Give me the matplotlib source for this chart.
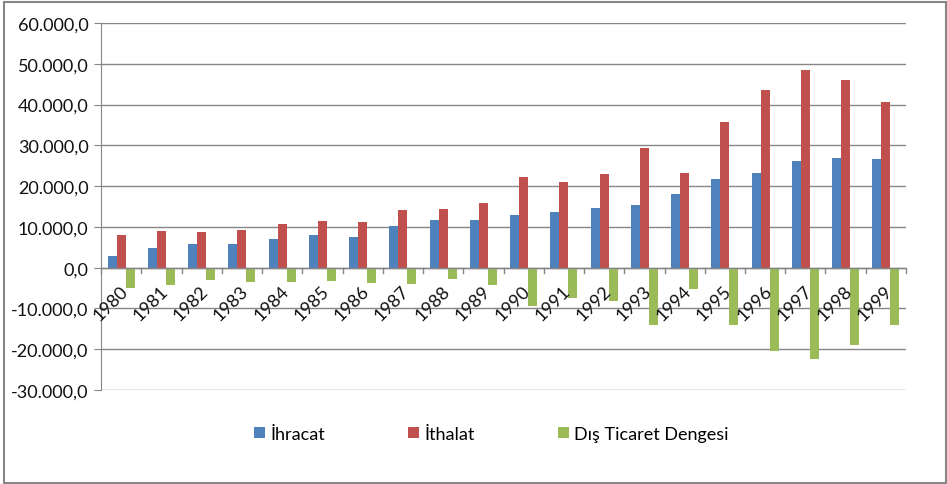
import numpy as np
import matplotlib.pyplot as plt
from matplotlib.patches import Rectangle
from matplotlib.transforms import ScaledTranslation

plt.rcParams['font.family'] = ['Lato', 'DejaVu Sans']

years = [str(y) for y in range(1980, 2000)]
ihracat = [2910, 4703, 5746, 5728, 7134, 7958, 7457, 10190, 11662, 11625,
           12959, 13593, 14715, 15345, 18106, 21637, 23224, 26261, 26974, 26587]
ithalat = [7909, 8933, 8843, 9235, 10757, 11343, 11105, 14158, 14335, 15792,
           22302, 21047, 22871, 29428, 23270, 35709, 43627, 48559, 45921, 40671]
denge = [e - i for e, i in zip(ihracat, ithalat)]

labels = ["İhracat", "İthalat", "Dış Ticaret Dengesi"]
colors = ["#4F81BD", "#C0504D", "#9BBB59"]
gridc = "#868686"

fig = plt.figure(figsize=(9.47, 4.85), dpi=100)
ax = fig.add_axes([0.1067, 0.1938, 0.85, 0.7567])

x = np.arange(len(years))
w = 0.224
for k, vals in enumerate([ihracat, ithalat, denge]):
    ax.bar(x + (k - 1) * w, vals, width=w, color=colors[k], label=labels[k], zorder=3)

ax.set_xlim(-0.5, len(years) - 0.5)
ax.set_ylim(-30000, 60000)
yt = np.arange(-30000, 60001, 10000)
ax.set_yticks(yt)
ax.set_yticklabels([f"{v:,.1f}".replace(",", "X").replace(".", ",").replace("X", ".") for v in yt],
                   fontsize=13, color="#111111")
ax.yaxis.grid(True, color=gridc, linewidth=1, zorder=0)
ax.tick_params(axis='y', length=5, color=gridc, pad=4)

for s in ['top', 'right', 'bottom']:
    ax.spines[s].set_visible(False)
ax.spines['left'].set_color(gridc)
ax.axhline(0, color=gridc, linewidth=1, zorder=4)

ax.set_xticks([])
for b in np.arange(-0.5, len(years), 1):
    ax.plot([b, b], [0, -1200], color=gridc, linewidth=1, zorder=4, clip_on=False)

# year labels sit just under the zero line, rotated 45 degrees
off = ax.transData + ScaledTranslation(0.04, -0.2, fig.dpi_scale_trans)
for i, yr in enumerate(years):
    ax.text(i, 0, yr, transform=off, rotation=45, ha='right', va='center',
            rotation_mode='anchor', fontsize=13, color="#111111", zorder=5)

leg = fig.legend(loc='center', bbox_to_anchor=(0.519, 0.103), ncol=3, frameon=False,
                 fontsize=13, handlelength=0.6, handleheight=0.6, handletextpad=0.3,
                 columnspacing=4.6)

fig.patches.append(Rectangle((0.0042, 0.002), 0.9947, 0.9918, transform=fig.transFigure,
                             fill=False, edgecolor=gridc, linewidth=1.5))

fig.savefig("out.png", dpi=100)
